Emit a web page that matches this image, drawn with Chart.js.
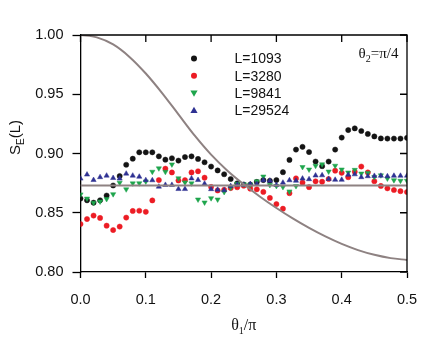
<!DOCTYPE html>
<html>
<head>
<meta charset="utf-8">
<script src="https://cdn.jsdelivr.net/npm/chart.js@4.4.1/dist/chart.umd.min.js"></script>
<style>
  html, body { margin: 0; padding: 0; background: #fff; }
  #wrap { width: 436px; height: 339px; }
</style>
</head>
<body>
<div id="wrap"><canvas id="c" width="436" height="339"></canvas></div>
<script>
// ---- data ----
const thetaOverPi = [0.00,0.01,0.02,0.03,0.04,0.05,0.06,0.07,0.08,0.09,
  0.10,0.11,0.12,0.13,0.14,0.15,0.16,0.17,0.18,0.19,
  0.20,0.21,0.22,0.23,0.24,0.25,0.26,0.27,0.28,0.29,
  0.30,0.31,0.32,0.33,0.34,0.35,0.36,0.37,0.38,0.39,
  0.40,0.41,0.42,0.43,0.44,0.45,0.46,0.47,0.48,0.49,0.50];

const L1093 = [0.862,0.8605,0.8585,0.8605,0.8645,0.873,0.881,0.8905,0.8956,0.901,
  0.901,0.901,0.8976,0.8948,0.896,0.894,0.897,0.8976,0.8954,0.8926,
  0.889,0.8857,0.8825,0.8785,0.8748,0.8738,0.8738,0.876,0.8776,0.877,
  0.8776,0.8842,0.8946,0.9033,0.9056,0.9012,0.8932,0.8893,0.8932,0.9033,
  0.9134,0.9198,0.9212,0.919,0.9165,0.9144,0.9127,0.9126,0.9126,0.9126,0.9132];

const L3280 = [0.8405,0.8447,0.8476,0.8456,0.8391,0.8354,0.8383,0.8459,0.8515,0.8517,
  0.8508,0.8604,0.8776,0.8872,0.884,0.8772,0.8775,0.884,0.885,0.8796,
  0.8718,0.8688,0.8694,0.8708,0.8715,0.8728,0.8703,0.8698,0.8676,0.8625,
  0.8573,0.8534,0.8665,0.879,0.8754,0.8716,0.8765,0.8762,0.8785,0.8855,
  0.8837,0.88,0.8846,0.889,0.884,0.8766,0.8726,0.8706,0.8692,0.8682,0.8675];

const L9841 = [0.8655,0.862,0.8584,0.8595,0.8616,0.8657,0.8754,0.8698,0.8748,0.8749,
  0.8764,0.8846,0.8875,0.8845,0.8908,0.8791,0.8756,0.8748,0.8612,0.8587,
  0.8623,0.8612,0.8675,0.8713,0.8745,0.874,0.8737,0.8765,0.8806,0.8734,
  0.8726,0.8717,0.868,0.8725,0.8886,0.8865,0.8896,0.8909,0.8848,0.8897,
  0.8865,0.884,0.8862,0.8831,0.8836,0.8802,0.8816,0.8789,0.8775,0.877,0.877];

const L29524 = [0.8788,0.8822,0.8776,0.88,0.8813,0.8793,0.8788,0.883,0.8813,0.8804,
  0.8775,0.8774,0.872,0.8735,0.8735,0.870,0.870,0.879,0.8776,0.8745,
  0.8699,0.8695,0.869,0.8725,0.8737,0.8735,0.8742,0.8742,0.8774,0.877,
  0.8734,0.8754,0.8774,0.877,0.8788,0.8783,0.8814,0.8816,0.8785,0.8778,
  0.8778,0.882,0.8824,0.88,0.8808,0.8811,0.8812,0.8808,0.8812,0.8812,0.8813];

const flatX = [0.0, 0.5];
const flatY = [0.873, 0.873];

const curveX = [0,0.025,0.05,0.075,0.1,0.125,0.15,0.175,0.2,0.225,0.25,
  0.275,0.3,0.325,0.35,0.375,0.4,0.425,0.45,0.475,0.5];
const curveY = [1.000,0.998,0.992,0.9815,0.9675,0.951,0.933,0.915,0.899,0.8855,0.874,
  0.8635,0.854,0.8452,0.8372,0.830,0.8237,0.8185,0.8145,0.8117,0.8102];

const seriesLabels = ['L=1093','L=3280','L=9841','L=29524'];
const xTickLabels = ['0.0','0.1','0.2','0.3','0.4','0.5'];
const yTickLabels = ['0.80','0.85','0.90','0.95','1.00'];

// ---- styles ----
const colBlack = '#141414', colRed = '#ec1c24', colGreen = '#1ea54c', colBlue = '#2e3192';
const colCurve = '#8e8282';

function pts(xs, ys) { return xs.map((x, i) => ({x: x, y: ys[i]})); }

const markerSets = [
  {label: seriesLabels[0], data: pts(thetaOverPi, L1093), color: colBlack, style: 'circle', r: 2.6, rot: 0},
  {label: seriesLabels[1], data: pts(thetaOverPi, L3280), color: colRed, style: 'circle', r: 2.6, rot: 0},
  {label: seriesLabels[2], data: pts(thetaOverPi, L9841), color: colGreen, style: 'triangle', r: 3, rot: 180},
  {label: seriesLabels[3], data: pts(thetaOverPi, L29524), color: colBlue, style: 'triangle', r: 3, rot: 0}
];

const datasets = [
  {type: 'line', label: 'curve', data: pts(curveX, curveY), borderColor: colCurve, borderWidth: 2,
   pointRadius: 0, cubicInterpolationMode: 'monotone', fill: false, order: 0},
  {type: 'line', label: 'flat', data: pts(flatX, flatY), borderColor: colCurve, borderWidth: 2,
   pointRadius: 0, fill: false, order: 0}
];
markerSets.slice().reverse().forEach(s => {
  datasets.push({type: 'scatter', label: s.label, data: s.data, pointStyle: s.style,
    pointRotation: s.rot, pointRadius: s.r, pointBackgroundColor: s.color,
    pointBorderColor: s.color, pointBorderWidth: 0.5, order: 1, showLine: false});
});

const FONT = '"Liberation Sans", Arial, sans-serif';
const SERIF = '"Liberation Serif", "Times New Roman", serif';

const decor = {
  id: 'decor',
  afterDraw(chart) {
    const ctx = chart.ctx;
    const a = chart.chartArea;
    const xs = chart.scales.x, ys = chart.scales.y;
    ctx.save();
    ctx.strokeStyle = '#000';
    ctx.lineWidth = 1.3;
    ctx.beginPath();
    ctx.moveTo(a.left, a.top); ctx.lineTo(a.right, a.top); ctx.lineTo(a.right, a.bottom);
    ctx.stroke();
    ctx.beginPath();
    xs.ticks.forEach(t => { const px = xs.getPixelForValue(t.value); ctx.moveTo(px, a.top); ctx.lineTo(px, a.top + 7); });
    ys.ticks.forEach(t => { const py = ys.getPixelForValue(t.value); ctx.moveTo(a.right, py); ctx.lineTo(a.right - 7, py); });
    ctx.stroke();

    // legend
    ctx.font = '14px ' + FONT;
    ctx.textBaseline = 'middle';
    const lx = a.left + 113.5, tx = a.left + 154, ly0 = a.top + 23.5, dy = 17.3;
    markerSets.forEach((s, i) => {
      const y = ly0 + i * dy;
      ctx.fillStyle = s.color;
      ctx.beginPath();
      if (s.style === 'circle') {
        ctx.arc(lx, y, 3, 0, Math.PI * 2);
      } else {
        const r = 3.6, up = s.rot === 0 ? -1 : 1;
        ctx.moveTo(lx, y + up * r);
        ctx.lineTo(lx - r, y - up * r * 0.75);
        ctx.lineTo(lx + r, y - up * r * 0.75);
        ctx.closePath();
      }
      ctx.fill();
      ctx.fillStyle = '#111';
      ctx.textAlign = 'left';
      ctx.fillText(s.label, tx, y + 1);
    });

    // theta_2 = pi/4 annotation
    ctx.fillStyle = '#111';
    ctx.textAlign = 'left';
    ctx.textBaseline = 'alphabetic';
    let x = a.left + 278, y = a.top + 23;
    ctx.font = '15px ' + SERIF;
    ctx.fillText('\u03B8', x, y); x += ctx.measureText('\u03B8').width;
    ctx.font = '10px ' + SERIF;
    ctx.fillText('2', x, y + 4); x += ctx.measureText('2').width;
    ctx.font = '15px ' + SERIF;
    ctx.fillText('=\u03C0/4', x, y);

    // x title
    ctx.font = '16px ' + SERIF;
    const w1 = ctx.measureText('\u03B8').width, w3 = ctx.measureText('/\u03C0').width;
    ctx.font = '10px ' + SERIF;
    const w2 = ctx.measureText('1').width;
    let cx = (a.left + a.right) / 2 - (w1 + w2 + w3) / 2, cy = 330;
    ctx.font = '16px ' + SERIF;
    ctx.fillText('\u03B8', cx, cy); cx += w1;
    ctx.font = '10px ' + SERIF;
    ctx.fillText('1', cx, cy + 4); cx += w2;
    ctx.font = '16px ' + SERIF;
    ctx.fillText('/\u03C0', cx, cy);

    // y title
    ctx.translate(20, 155);
    ctx.rotate(-Math.PI / 2);
    ctx.font = '15px ' + FONT;
    let yx = 0;
    ctx.fillText('S', yx, 0); yx += ctx.measureText('S').width;
    ctx.font = '10px ' + FONT;
    ctx.fillText('E', yx, 4); yx += ctx.measureText('E').width;
    ctx.font = '15px ' + FONT;
    ctx.fillText('(L)', yx, 0);
    ctx.restore();
  }
};

new Chart(document.getElementById('c'), {
  data: {datasets: datasets},
  options: {
    responsive: false,
    animation: false,
    devicePixelRatio: 1,
    layout: {padding: {left: 0, right: 29, top: 35, bottom: 0}},
    plugins: {legend: {display: false}, tooltip: {enabled: false}},
    scales: {
      x: {
        type: 'linear', min: 0, max: 0.5,
        afterFit(s) { s.height = 67; },
        afterBuildTicks(s) { s.ticks = xTickLabels.map(v => ({value: parseFloat(v)})); },
        grid: {drawOnChartArea: false, drawTicks: true, tickLength: 6, color: '#000', tickWidth: 1.3},
        border: {display: true, color: '#000', width: 1.3},
        ticks: {padding: 13, color: '#111', font: {family: FONT, size: 14.5},
          callback: (v) => xTickLabels[Math.round(v * 10)]}
      },
      y: {
        type: 'linear', min: 0.8, max: 1.0,
        afterFit(s) { s.width = 80.5; },
        afterBuildTicks(s) { s.ticks = yTickLabels.map(v => ({value: parseFloat(v)})); },
        grid: {drawOnChartArea: false, drawTicks: true, tickLength: 8, color: '#000', tickWidth: 1.3},
        border: {display: true, color: '#000', width: 1.3},
        ticks: {padding: 9, color: '#111', font: {family: FONT, size: 14.5},
          callback: (v) => yTickLabels[Math.round((v - 0.8) * 20)]}
      }
    }
  },
  plugins: [decor]
});
</script>
</body>
</html>
